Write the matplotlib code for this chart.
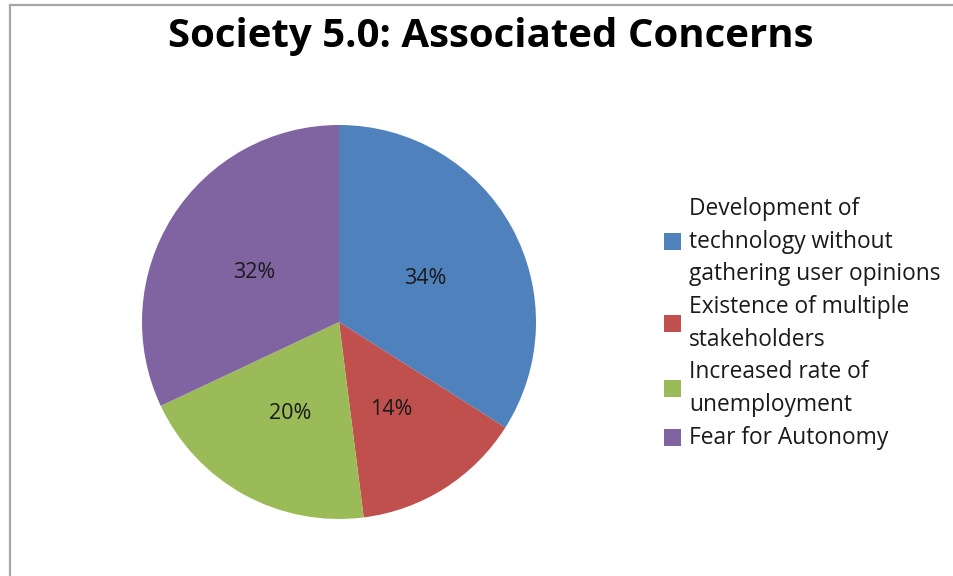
import matplotlib
matplotlib.use("Agg")
import matplotlib.pyplot as plt
from matplotlib.patches import Rectangle
from matplotlib.lines import Line2D
from matplotlib.transforms import offset_copy

title = "Society 5.0: Associated Concerns"
categories = [
    "Development of\ntechnology without\ngathering user opinions",
    "Existence of multiple\nstakeholders",
    "Increased rate of\nunemployment",
    "Fear for Autonomy",
]
shares = [34, 14, 20, 32]
colors = ["#4F81BD", "#C0504D", "#9BBB59", "#8064A2"]

W, H = 954, 576
fig = plt.figure(figsize=(W / 100, H / 100), dpi=100)
fig.patch.set_facecolor("white")

# chart frame (top and left edges)
fig.add_artist(Line2D([10 / W, 10 / W], [0, 1 - 5 / H], color="#a6a6a6", lw=1.6,
                      transform=fig.transFigure))
fig.add_artist(Line2D([10 / W, 1], [1 - 5 / H, 1 - 5 / H], color="#a6a6a6", lw=1.6,
                      transform=fig.transFigure))

fig.text(491 / W, 1 - 36 / H, title, ha="center", va="center",
         fontsize=29, fontweight="bold", family="Open Sans", color="black")

# pie
cx, cy, r = 339, 322, 197
ax = fig.add_axes([(cx - r) / W, (H - cy - r) / H, 2 * r / W, 2 * r / H])
wedges, _, pct = ax.pie(shares, colors=colors, startangle=90, counterclock=False, radius=1,
                        labels=[f"{v}%" for v in shares], labeldistance=None,
                        autopct="%d%%", pctdistance=0.505,
                        textprops=dict(fontsize=15.5, family="Open Sans", color="#1a1a1a"),
                        wedgeprops=dict(linewidth=0))
for t in pct:
    t.set_transform(offset_copy(t.get_transform(), fig=fig, x=-1, y=-4, units="dots"))
ax.set_xlim(-1, 1)
ax.set_ylim(-1, 1)
ax.set_aspect("equal")
ax.axis("off")

# legend drawn by hand
line_h = 32.7
y = 209
text_x = 689
box = 17
for lab, col in zip(categories, colors):
    n = lab.count("\n") + 1
    mid = y + (n - 1) * line_h / 2
    for i, line in enumerate(lab.split("\n")):
        fig.text(text_x / W, 1 - (y + i * line_h) / H, line, ha="left", va="center",
                 fontsize=16.4, family="Open Sans", color="#1a1a1a")
    fig.add_artist(Rectangle(((664) / W, 1 - (mid + box / 2) / H), box / W, box / H,
                             facecolor=col, edgecolor="none", transform=fig.transFigure))
    y += n * line_h

fig.savefig("out.png", dpi=100)
